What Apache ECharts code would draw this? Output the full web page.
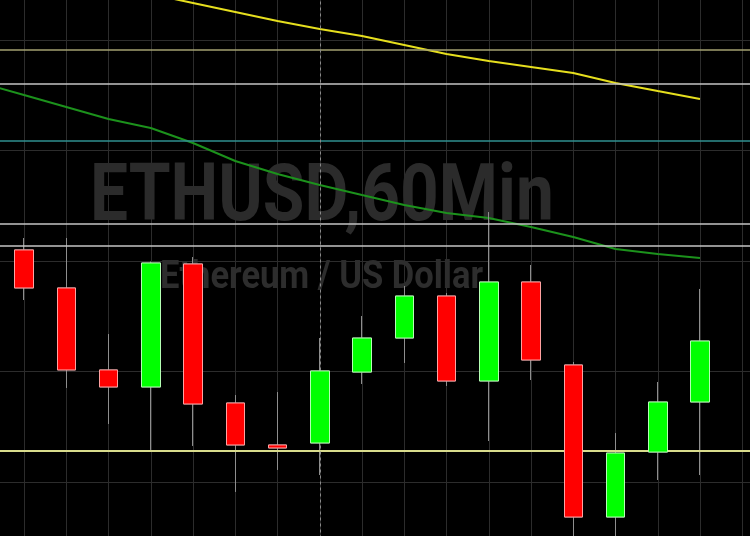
<!DOCTYPE html>
<html>
<head>
<meta charset="utf-8">
<script src="https://cdn.jsdelivr.net/npm/echarts@6/dist/echarts.min.js"></script>
<style>html,body{margin:0;padding:0;background:#000;}#c{width:750px;height:536px;}</style>
</head>
<body>
<div id="c"></div>
<script>
// hourly slots (first one is the bar before the visible window, last two are empty future slots)
const categories = ['03:00','04:00','05:00','06:00','07:00','08:00','09:00','10:00','11:00','12:00','13:00','14:00','15:00','16:00','17:00','18:00','19:00','20:00','21:00','22:00'];
// candle values for the 17 visible bars (slots 1..17)
const openP  = [1801.00,1797.56,1790.14,1788.60,1799.73,1787.15,1783.35,1783.53,1789.95,1793.03,1796.83,1789.14,1798.10,1790.59,1776.83,1782.71,1787.24];
const closeP = [1797.56,1790.14,1788.60,1799.82,1787.06,1783.35,1783.08,1790.05,1793.03,1796.83,1789.14,1798.10,1791.04,1776.83,1782.62,1787.24,1792.76];
const lowP   = [1796.47,1788.51,1785.25,1782.90,1783.26,1779.10,1781.09,1780.63,1788.87,1790.77,1788.69,1783.71,1789.23,1774.75,1774.30,1780.18,1780.63];
const highP  = [1802.08,1802.08,1793.39,1799.95,1800.36,1787.87,1788.14,1793.03,1795.02,1797.74,1797.10,1804.43,1799.64,1790.86,1784.43,1789.05,1797.47];
// moving averages (slot 0 .. slot 17)
const maSlow = [1827.42,1826.61,1825.79,1824.98,1824.16,1823.35,1822.53,1821.72,1821.00,1820.36,1819.55,1818.73,1818.10,1817.56,1817.01,1816.11,1815.38,1814.66];
const maFast = [1816.11,1815.02,1813.94,1812.85,1812.04,1810.68,1809.05,1807.87,1806.88,1805.97,1805.07,1804.34,1803.89,1803.08,1802.17,1801.09,1800.63,1800.27];
// horizontal levels
const levels = [1819.14,1816.06,1810.86,1803.35,1801.40,1782.85];
const levelColors = ['#a3a070','#c4c4c4','#2f8f8f','#c4c4c4','#c4c4c4','#d9dc8c'];
const levelWidths = [1.5,1.5,1.5,1.5,1.5,2];
const crossCategory = '11:00';
const titleText = 'ETHUSD,60Min';
const subtitleText = 'Ethereum / US Dollar';

const pad = (arr, before, total) => {
  const out = [];
  for (let i = 0; i < before; i++) out.push('-');
  arr.forEach(v => out.push(v));
  while (out.length < total) out.push('-');
  return out;
};
const N = categories.length;
const wickData = pad(openP.map((o,i)=>[o, closeP[i], lowP[i], highP[i]]), 1, N);
const bodyData = pad(openP.map((o,i)=>[o, closeP[i], Math.min(o,closeP[i]), Math.max(o,closeP[i])]), 1, N);

const chart = echarts.init(document.getElementById('c'), null, {renderer:'canvas'});
chart.setOption({
  backgroundColor: '#000000',
  animation: false,
  grid: {left: -18.25, right: -34.5, top: -70.5, bottom: -56.5, containLabel: false, outerBoundsMode: 'none'},
  xAxis: {
    type: 'category', data: categories, boundaryGap: false,
    axisLine: {show: false}, axisTick: {show: false}, axisLabel: {show: false},
    splitLine: {show: true, interval: 0, lineStyle: {color: '#2c2c2c', width: 1}}
  },
  yAxis: {
    type: 'value', min: 1770, max: 1830, interval: 10,
    axisLine: {show: false}, axisTick: {show: false}, axisLabel: {show: false},
    splitLine: {show: true, lineStyle: {color: '#2c2c2c', width: 1}}
  },
  graphic: [
    {type: 'text', x: 90, y: 200, scaleX: 0.845, z: 1, silent: true,
     style: {text: titleText, font: 'bold 80px "Roboto", sans-serif', fill: '#2b2b2b', align: 'left', verticalAlign: 'middle'}},
    {type: 'text', x: 160, y: 278, scaleX: 0.885, z: 1, silent: true,
     style: {text: subtitleText, font: 'bold 39px "Roboto", sans-serif', fill: '#2d2d2d', align: 'left', verticalAlign: 'middle'}}
  ],
  series: [
    {
      type: 'line', data: [], silent: true, z: 1,
      markLine: {
        silent: true, symbol: 'none', animation: false,
        label: {show: false},
        data: levels.map((v,i)=>({yAxis: v, lineStyle: {color: levelColors[i], width: levelWidths[i], type: 'solid'}}))
          .concat([{xAxis: crossCategory, lineStyle: {color: '#8a8a8a', width: 1, type: [3,3]}}])
      }
    },
    {
      type: 'line', data: maFast, symbol: 'none', smooth: false, z: 3,
      lineStyle: {color: '#1c921c', width: 2}
    },
    {
      type: 'line', data: maSlow, symbol: 'none', smooth: false, z: 3,
      lineStyle: {color: '#e6df1e', width: 2}
    },
    {
      type: 'candlestick', data: wickData, barWidth: 19, z: 4,
      itemStyle: {color: '#8e8e8e', color0: '#8e8e8e', borderColor: '#8e8e8e', borderColor0: '#8e8e8e', borderWidth: 1}
    },
    {
      type: 'candlestick', data: bodyData, barWidth: 19, z: 5,
      itemStyle: {color: '#00ff00', color0: '#ff0000', borderColor: '#b4ffb4', borderColor0: '#ffa0a0', borderWidth: 1}
    }
  ]
});
</script>
</body>
</html>
